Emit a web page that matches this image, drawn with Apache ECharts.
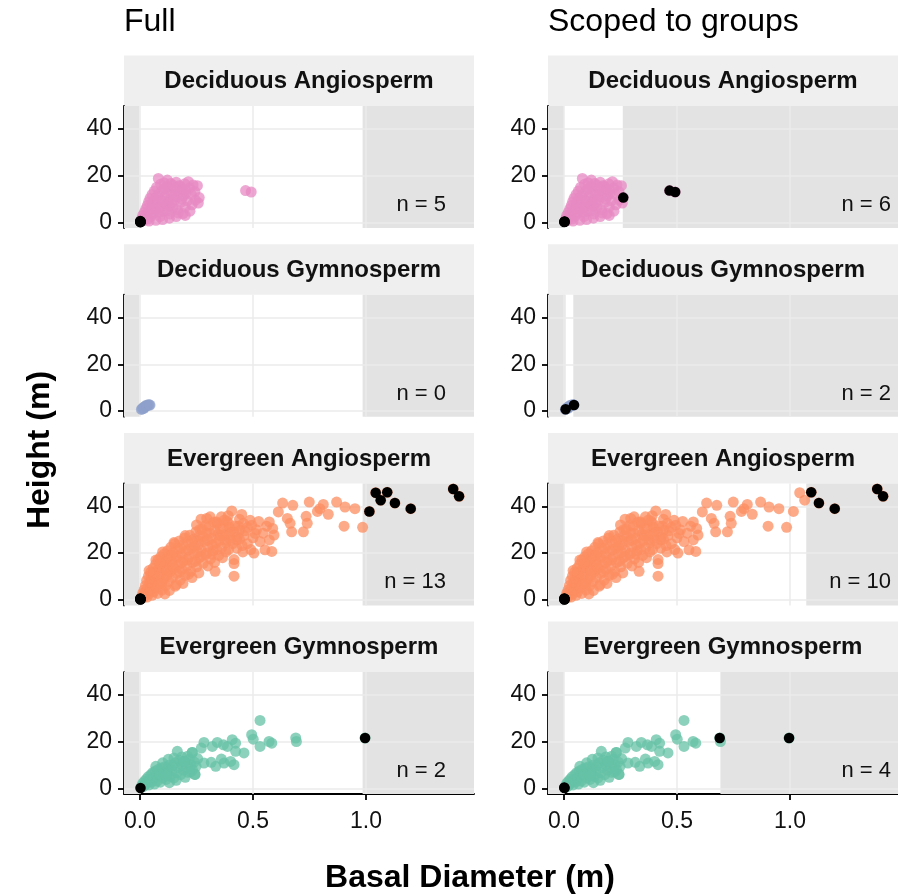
<!DOCTYPE html>
<html>
<head>
<meta charset="utf-8">
<script src="https://cdn.jsdelivr.net/npm/echarts@6/dist/echarts.min.js"></script>
<style>
  html, body { margin: 0; padding: 0; background: #fff; }
  #chart { width: 898px; height: 894px; }
</style>
</head>
<body>
<div id="chart"></div>
<script>
// ── Data ──
const groups = ['Deciduous Angiosperm', 'Deciduous Gymnosperm', 'Evergreen Angiosperm', 'Evergreen Gymnosperm'];
const groupColors = ['#e78ac3', '#8da0cb', '#fc8d62', '#66c2a5'];
const columns = ['Full', 'Scoped to groups'];
const xTicks = [0, 0.5, 1.0];
const yTicks = [0, 20, 40];
const xRange = [-0.071, 1.478];
const yRange = [-2.4, 49.8];

// non-shaded window [lo, hi] per group, per column
const fullBounds = [[-0.003, 0.985], [-0.003, 0.985], [-0.003, 0.985], [-0.003, 0.985]];
const scopedBounds = [[0.0, 0.26], [0.007, 0.041], [0.0, 1.072], [0.0, 0.692]];

// [basal diameter, height]
const daPts = [
  [0.004,0.5],[0.008,1.6],[0.012,3.0],[0.015,0.8],[0.019,4.3],[0.022,2.1],[0.026,5.8],[0.029,3.3],
  [0.032,7.2],[0.035,1.4],[0.038,8.8],[0.041,4.8],[0.044,10.3],[0.047,2.6],[0.05,6.6],[0.053,11.9],
  [0.056,8.5],[0.06,3.9],[0.063,13.4],[0.066,10.1],[0.07,5.7],[0.073,15.0],[0.077,7.9],[0.081,18.8],
  [0.084,12.0],[0.088,2.5],[0.091,16.3],[0.095,9.6],[0.099,13.8],[0.103,4.7],[0.107,17.0],[0.111,11.0],
  [0.115,7.4],[0.119,15.2],[0.121,18.1],[0.124,9.0],[0.128,13.0],[0.132,3.6],[0.136,16.6],[0.14,11.5],
  [0.145,6.2],[0.15,14.6],[0.155,9.8],[0.16,17.2],[0.165,5.5],[0.17,12.8],[0.175,15.8],[0.18,8.6],
  [0.186,14.0],[0.192,11.3],[0.198,16.5],[0.204,12.5],[0.21,9.2],[0.214,17.4],[0.22,14.8],[0.228,11.9],
  [0.221,4.8],[0.177,15.3],[0.235,16.0],[0.243,13.2],[0.254,15.7],[0.258,8.3],[0.262,10.6],[0.245,9.5],
  [0.1,1.2],[0.13,1.8],[0.16,2.5],[0.19,3.8],[0.07,0.9],[0.04,0.6],[0.2,6.5],[0.17,4.0],
  [0.058,6.0],[0.075,11.0],[0.09,6.5],[0.11,14.5],[0.13,7.0],[0.15,11.0],[0.12,5.0],[0.185,10.0],
  [0.2,14.0],[0.16,13.8],[0.14,8.5],[0.23,7.5],[0.1,9.0],[0.085,4.5],[0.2,3.0],[0.145,16.0],
  [0.467,13.6],[0.492,13.0]
];
const daOutFull = [[0.001,0.2],[0.002,0.4],[0.003,0.3],[0.001,0.6],[0.002,0.1]];
const daOutScoped = [[0.001,0.2],[0.002,0.4],[0.003,0.3],[0.262,10.6],[0.467,13.6],[0.492,13.0]];

const dgPts = [
  [0.006,0.7],[0.01,1.0],[0.014,1.5],[0.019,1.6],[0.024,2.1],[0.03,2.2],[0.035,2.6],[0.04,2.7],
  [0.017,1.2],[0.028,2.5],[0.044,2.6]
];
const dgOutFull = [];
const dgOutScoped = [[0.007,0.8],[0.044,2.6]];

const eaPts = [
  [0.004,0.6],[0.008,1.5],[0.012,2.8],[0.015,0.9],[0.018,4.2],[0.021,2.0],[0.024,6.1],[0.026,3.4],
  [0.029,8.3],[0.031,1.2],[0.034,5.2],[0.037,10.1],[0.039,2.6],[0.042,7.4],[0.045,4.1],[0.047,11.8],
  [0.05,9.2],[0.053,1.9],[0.055,6.3],[0.058,13.5],[0.061,3.5],[0.063,10.6],[0.066,8.0],[0.069,15.2],
  [0.072,5.1],[0.075,12.4],[0.078,2.7],[0.08,17.1],[0.083,9.6],[0.086,14.0],[0.089,6.8],[0.092,18.4],
  [0.095,11.3],[0.098,4.2],[0.101,15.9],[0.104,8.7],[0.107,19.6],[0.11,13.2],[0.113,6.0],[0.116,17.3],
  [0.119,10.4],[0.122,21.0],[0.125,14.8],[0.128,7.9],[0.131,19.0],[0.134,12.1],[0.137,22.5],[0.14,16.4],
  [0.143,9.5],[0.146,20.2],[0.15,13.6],[0.153,24.0],[0.156,5.8],[0.16,18.0],[0.163,11.2],[0.167,22.0],
  [0.17,15.1],[0.174,25.2],[0.178,8.4],[0.181,19.5],[0.185,13.0],[0.189,23.6],[0.193,16.8],[0.197,26.4],
  [0.2,10.5],[0.204,20.8],[0.208,14.6],[0.212,24.9],[0.216,18.3],[0.22,27.6],[0.225,12.2],[0.229,22.1],
  [0.233,16.0],[0.238,26.0],[0.242,19.7],[0.247,29.0],[0.251,14.1],[0.256,23.5],[0.26,17.8],[0.265,27.4],
  [0.27,21.2],[0.275,30.3],[0.28,15.6],[0.285,25.0],[0.29,19.3],[0.295,28.6],[0.3,22.7],[0.306,31.5],
  [0.312,17.5],[0.318,26.3],[0.324,20.9],[0.33,29.7],[0.336,24.2],[0.342,32.6],[0.348,19.0],[0.355,27.5],
  [0.362,22.4],[0.369,30.8],[0.376,25.6],[0.384,33.8],[0.392,21.5],[0.4,28.9],[0.41,24.0],[0.42,31.6],
  [0.43,27.0],[0.44,34.5],[0.452,23.2],[0.465,29.5],
  [0.04,12.5],[0.07,17.0],[0.1,20.5],[0.15,24.5],[0.2,27.5],[0.19,7.0],[0.23,9.5],[0.26,11.5],
  [0.3,14.5],[0.33,16.0],[0.13,4.0],[0.11,2.5],[0.16,6.5],
  [0.25,32.0],[0.27,34.5],[0.31,35.5],[0.28,27.0],[0.32,23.5],[0.345,28.0],[0.36,35.5],[0.39,36.0],
  [0.38,20.5],[0.4,25.5],[0.415,29.0],[0.435,31.5],[0.45,36.5],[0.395,31.0],[0.365,18.0],[0.34,21.5],
  [0.31,28.5],[0.29,31.8],[0.26,25.0],[0.24,23.0],[0.215,21.5],[0.18,22.0],[0.165,18.5],[0.14,19.0],
  [0.12,17.5],[0.09,15.5],[0.06,11.5],[0.05,7.5],[0.095,7.0],[0.12,12.5],[0.145,14.5],[0.175,12.0],
  [0.21,17.0],[0.245,16.5],[0.27,18.5],[0.215,11.0],[0.185,16.0],[0.255,20.5],[0.3,25.5],[0.32,19.5],
  [0.631,41.4],[0.676,40.4],[0.749,41.8],[0.811,40.8],[0.870,41.8],[0.907,39.7],[0.951,39.0],[0.985,31.0],
  [0.903,31.5],[0.833,36.6],[0.785,37.8],[0.796,39.0],[0.735,35.7],[0.740,32.7],[0.723,29.1],[0.671,29.1],
  [0.652,34.8],[0.664,32.7],[0.612,37.6],[0.572,33.3],[0.587,30.5],[0.593,27.7],[0.572,25.6],[0.583,20.7],
  [0.553,21.4],[0.531,24.9],[0.504,20.0],[0.509,28.4],[0.494,31.9],[0.487,34.0],[0.457,32.7],[0.442,29.8],
  [0.406,38.0],[0.391,32.9],[0.428,25.6],[0.428,22.1],[0.416,17.2],[0.416,10.1],[0.416,15.5],[0.369,27.7],
  [0.339,33.3],[0.295,34.8],[0.332,12.2],[0.295,20.0],[0.265,30.1],[0.229,24.9],[0.327,33.3],[0.372,34.0],
  [0.46,27.5],[0.475,31.0],[0.5,26.5],[0.515,30.0],[0.525,33.5],[0.545,28.5],[0.56,31.5],[0.475,24.0],
  [0.49,21.5],[0.455,20.5],[0.44,26.0],[0.395,28.0],[0.38,24.5],[0.355,30.5],[0.35,25.5],
  [1.015,37.8],[1.043,45.8],[1.065,42.6],[1.094,46.0],[1.128,41.4],[1.198,39.0],[1.386,47.4],[1.412,44.3]
];
const eaOutFull = [
  [0.001,0.2],[0.002,0.4],[0.003,0.3],[0.001,0.6],[0.002,0.1],
  [1.015,37.8],[1.043,45.8],[1.065,42.6],[1.094,46.0],[1.128,41.4],[1.198,39.0],[1.386,47.4],[1.412,44.3]
];
const eaOutScoped = [
  [0.001,0.2],[0.002,0.4],[0.003,0.3],[0.001,0.6],[0.002,0.1],
  [1.094,46.0],[1.128,41.4],[1.198,39.0],[1.386,47.4],[1.412,44.3]
];

const egPts = [
  [0.004,0.4],[0.008,1.2],[0.012,2.2],[0.016,0.9],[0.02,3.1],[0.024,1.8],[0.028,4.0],[0.032,2.5],
  [0.036,5.0],[0.04,1.5],[0.044,3.6],[0.048,5.9],[0.052,2.8],[0.056,6.8],[0.06,4.4],[0.064,1.9],
  [0.068,7.5],[0.072,5.3],[0.076,3.2],[0.08,8.1],[0.085,6.1],[0.09,2.7],[0.095,8.8],[0.1,4.6],
  [0.105,7.0],[0.11,9.3],[0.115,3.9],[0.12,6.4],[0.125,8.6],[0.13,10.0],[0.135,5.2],[0.14,7.6],
  [0.145,9.8],[0.15,4.5],[0.156,11.0],[0.162,6.8],[0.168,8.9],[0.174,12.1],[0.18,5.9],[0.186,10.2],
  [0.192,7.9],[0.198,11.6],[0.205,9.0],[0.212,6.9],[0.218,12.5],[0.225,10.1],[0.232,8.0],[0.24,11.3],
  [0.248,9.5],[0.243,6.0],[0.15,13.0],[0.165,15.9],[0.231,15.4],[0.195,11.6],
  [0.07,9.5],[0.1,11.0],[0.125,12.5],[0.185,13.5],[0.21,13.8],[0.16,3.5],[0.2,4.8],[0.13,2.5],
  [0.255,12.8],[0.225,7.2],[0.09,6.0],[0.115,5.5],
  [0.531,29.1],[0.689,21.6],[0.692,20.1],[0.494,23.0],[0.501,21.1],[0.531,18.0],[0.571,20.1],[0.583,19.4],
  [0.283,19.7],[0.342,19.7],[0.369,18.7],[0.408,20.9],[0.423,19.4],[0.387,18.0],[0.271,17.3],[0.32,18.0],
  [0.46,15.2],[0.423,15.9],[0.231,15.4],[0.283,10.9],[0.315,11.2],[0.36,12.6],[0.372,10.9],[0.401,11.6],
  [0.416,10.2],[0.335,9.5],[0.243,6.0],[0.195,11.6],[0.996,21.6]
];
const egOutFull = [[0.002,0.2],[0.996,21.6]];
const egOutScoped = [[0.002,0.2],[0.689,21.6],[0.996,21.6],[0.001,0.4]];

const groupPts = [daPts, dgPts, eaPts, egPts];
const outFull = [daOutFull, dgOutFull, eaOutFull, egOutFull];
const outScoped = [daOutScoped, dgOutScoped, eaOutScoped, egOutScoped];

// ── Layout ──
const FONT = 'Liberation Sans, Arial, sans-serif';
const COL_LEFT = [124, 548];
const PANEL_W = 350;
const PANEL_H = 122;
const TOP0 = 106;
const ROW_STEP = 188.7;
const STRIP_H = 50.5;
const NLABEL_RIGHT = [446, 891];

const grid = [], xAxis = [], yAxis = [], series = [], graphic = [];

for (let r = 0; r < groups.length; r++) {
  for (let c = 0; c < 2; c++) {
    const idx = r * 2 + c;
    const left = COL_LEFT[c];
    const top = TOP0 + ROW_STEP * r;
    const bottomRow = r === groups.length - 1;
    const bounds = c === 0 ? fullBounds[r] : scopedBounds[r];
    const outliers = c === 0 ? outFull[r] : outScoped[r];

    grid.push({ left, top, width: PANEL_W, height: PANEL_H });

    xAxis.push({
      gridIndex: idx, type: 'value', min: xRange[0], max: xRange[1],
      axisLine: { show: bottomRow, onZero: false, lineStyle: { color: '#000', width: 1.8 } },
      axisTick: { show: bottomRow, customValues: xTicks, length: 6, lineStyle: { color: '#000', width: 1.8 } },
      axisLabel: { show: bottomRow, customValues: xTicks, formatter: v => v.toFixed(1),
        fontSize: 23, color: '#111', fontFamily: FONT, margin: 16 },
      splitLine: { show: false },
    });
    yAxis.push({
      gridIndex: idx, type: 'value', min: yRange[0], max: yRange[1],
      axisLine: { show: true, onZero: false, lineStyle: { color: '#000', width: 1.8 } },
      axisTick: { customValues: yTicks, length: 6, lineStyle: { color: '#000', width: 1.8 } },
      axisLabel: { customValues: yTicks, fontSize: 23, color: '#111', fontFamily: FONT, margin: 12 },
      splitLine: { show: false },
    });

    // shaded "outside the window" zones
    series.push({
      type: 'scatter', xAxisIndex: idx, yAxisIndex: idx, data: [], silent: true,
      markArea: {
        silent: true, z: 1, itemStyle: { color: '#e3e3e3' },
        data: [
          [{ xAxis: xRange[0] }, { xAxis: bounds[0] }],
          [{ xAxis: bounds[1] }, { xAxis: xRange[1] }],
        ],
      },
    });
    // grid lines
    series.push({
      type: 'scatter', xAxisIndex: idx, yAxisIndex: idx, data: [], silent: true,
      markLine: {
        silent: true, z: 2, symbol: ['none', 'none'], label: { show: false },
        lineStyle: { color: '#ebebeb', width: 1.5, type: 'solid' },
        data: [...xTicks.map(v => ({ xAxis: v })), ...yTicks.map(v => ({ yAxis: v }))],
      },
    });
    // all trees
    series.push({
      type: 'scatter', xAxisIndex: idx, yAxisIndex: idx, z: 3, symbolSize: 11,
      itemStyle: { color: groupColors[r], opacity: 0.75 },
      data: groupPts[r],
    });
    // flagged trees
    series.push({
      type: 'scatter', xAxisIndex: idx, yAxisIndex: idx, z: 4, symbolSize: 10.5,
      itemStyle: { color: '#000', opacity: 1 },
      data: outliers,
    });

    // facet strip
    graphic.push({
      type: 'rect', shape: { x: left, y: top - STRIP_H, width: PANEL_W, height: STRIP_H },
      style: { fill: '#efefef' }, silent: true,
    });
    graphic.push({
      type: 'text', x: left + PANEL_W / 2, y: top - STRIP_H / 2 + 1,
      style: { text: groups[r], fill: '#111', font: `bold 24px ${FONT}`, align: 'center', verticalAlign: 'middle' },
      silent: true,
    });
    // count label
    graphic.push({
      type: 'text', x: NLABEL_RIGHT[c], y: top + PANEL_H - 23, z: 10,
      style: { text: `n = ${outliers.length}`, fill: '#111', font: `22px ${FONT}`, align: 'right', verticalAlign: 'middle' },
      silent: true,
    });
  }
}

// column titles
columns.forEach((t, c) => {
  graphic.push({
    type: 'text', x: COL_LEFT[c], y: 22,
    style: { text: t, fill: '#000', font: `32px ${FONT}`, align: 'left', verticalAlign: 'middle' },
  });
});
// axis titles
graphic.push({
  type: 'text', x: 470, y: 878,
  style: { text: 'Basal Diameter (m)', fill: '#000', font: `bold 32px ${FONT}`, align: 'center', verticalAlign: 'middle' },
});
graphic.push({
  type: 'text', x: 40, y: 450, rotation: Math.PI / 2,
  style: { text: 'Height (m)', fill: '#000', font: `bold 32px ${FONT}`, align: 'center', verticalAlign: 'middle' },
});

const chart = echarts.init(document.getElementById('chart'), null, { renderer: 'canvas' });
chart.setOption({
  animation: false,
  backgroundColor: '#fff',
  textStyle: { fontFamily: FONT },
  grid, xAxis, yAxis, series, graphic,
});
</script>
</body>
</html>
